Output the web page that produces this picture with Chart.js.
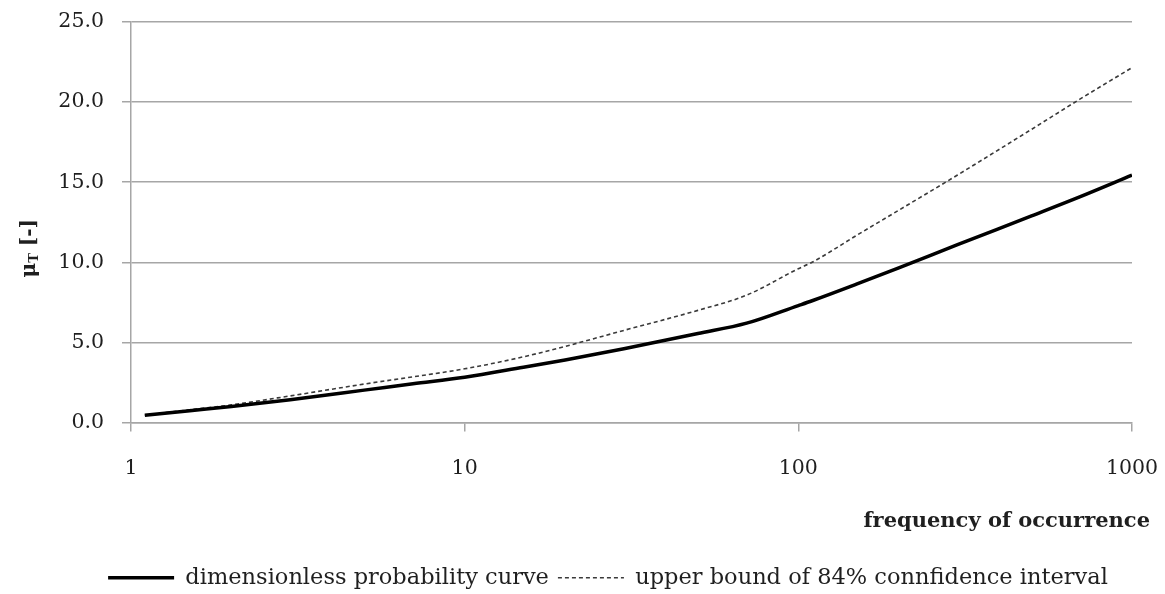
<!DOCTYPE html>
<html>
<head>
<meta charset="utf-8">
<script src="https://cdn.jsdelivr.net/npm/chart.js@4.4.1/dist/chart.umd.min.js"></script>
<style>
  html, body { margin:0; padding:0; background:#fff; }
  #wrap { width:1165px; height:594px; }
</style>
</head>
<body>
<div id="wrap"><canvas id="chartCurva"></canvas></div>
<script>
// ── Datos ──
const frecuencia = [1.1, 1.5, 2, 3, 5, 7, 10, 15, 20, 30, 50, 70, 100, 110, 150, 200, 300, 500, 700, 1000];
const curvaAdim  = [0.45, 0.74, 1.0, 1.42, 2.02, 2.42, 2.83, 3.45, 3.9, 4.6, 5.55, 6.2, 7.3, 7.6, 8.65, 9.65, 11.1, 12.9, 14.1, 15.44];
const limiteSup  = [0.45, 0.8, 1.1, 1.66, 2.4, 2.85, 3.35, 4.1, 4.75, 5.75, 7.0, 7.95, 9.6, 10.0, 11.7, 13.25, 15.45, 18.3, 20.2, 22.15];
const ticksX     = [1, 10, 100, 1000];
const etiquetas  = ['dimensionless probability curve', 'upper bound of 84% connfidence interval'];

const FUENTE = '"DejaVu Serif", "Liberation Serif", serif';
const TEXTO  = '#1f1f1f';
const GRIS   = '#a6a6a6';

const puntos = (ys) => frecuencia.map((x, i) => ({ x, y: ys[i] }));

// ── Títulos de ejes (μT con subíndice) y desplazamiento de la leyenda ──
const titulosEjes = {
  id: 'titulosEjes',
  afterLayout(chart) {
    chart.legend.left += 42;
    chart.legend.right += 42;
  },
  afterDraw(chart) {
    const { ctx, chartArea } = chart;
    ctx.save();
    ctx.fillStyle = TEXTO;
    ctx.textBaseline = 'middle';

    ctx.font = `bold 21px ${FUENTE}`;
    ctx.textAlign = 'right';
    ctx.fillText('frequency of occurrence', chartArea.right + 18, 522);

    // eje Y, rotado
    const cy = (chartArea.top + chartArea.bottom) / 2 + 26;
    ctx.translate(30, cy);
    ctx.rotate(-Math.PI / 2);
    ctx.textAlign = 'left';
    const fMu = `bold 20px ${FUENTE}`, fSub = `bold 13px ${FUENTE}`;
    ctx.font = fMu;  const wMu = ctx.measureText('μ').width;
    ctx.font = fSub; const wT  = ctx.measureText('T').width;
    ctx.font = fMu;  const wR  = ctx.measureText(' [-]').width;
    let x0 = -(wMu + wT + wR) / 2;
    ctx.font = fMu;  ctx.fillText('μ', x0, 0);
    ctx.font = fSub; ctx.fillText('T', x0 + wMu, 5);
    ctx.font = fMu;  ctx.fillText(' [-]', x0 + wMu + wT, 0);
    ctx.restore();
  }
};

const ctx = document.getElementById('chartCurva');
new Chart(ctx, {
  type: 'line',
  data: {
    datasets: [
      { label: etiquetas[0], data: puntos(curvaAdim),
        borderColor: '#000', borderWidth: 3.5, pointRadius: 0,
        cubicInterpolationMode: 'monotone', fill: false },
      { label: etiquetas[1], data: puntos(limiteSup),
        borderColor: '#3a3a3a', borderWidth: 1.6, borderDash: [4, 3], pointRadius: 0,
        cubicInterpolationMode: 'monotone', fill: false },
    ]
  },
  options: {
    responsive: true, maintainAspectRatio: false, animation: false,
    layout: { padding: { top: 22, right: 33, left: 0, bottom: -5 } },
    plugins: {
      tooltip: { enabled: false },
      legend: {
        position: 'bottom',
        labels: {
          color: TEXTO, font: { family: FUENTE, size: 22.5 },
          usePointStyle: true, pointStyle: 'line', pointStyleWidth: 66,
          padding: 9,
          // la muestra de línea toma el trazo del dataset (con guiones)
          generateLabels: (chart) => Chart.defaults.plugins.legend.labels.generateLabels(chart).map((item, i) => {
            const ds = chart.data.datasets[i];
            return { ...item, lineDash: ds.borderDash || [], lineWidth: ds.borderWidth, strokeStyle: ds.borderColor };
          })
        }
      }
    },
    scales: {
      x: {
        type: 'logarithmic', min: 1, max: 1000,
        afterBuildTicks: (axis) => { axis.ticks = ticksX.map(v => ({ value: v })); },
        afterFit: (scale) => { scale.height = 135; scale.paddingLeft = 0; scale.paddingRight = 0; },
        grid: { drawOnChartArea: false, color: GRIS, tickLength: 9, lineWidth: 1.5 },
        border: { color: GRIS, width: 1.5 },
        ticks: { color: TEXTO, font: { family: FUENTE, size: 20.5 }, padding: 25,
                 maxRotation: 0, autoSkip: false, callback: (v) => String(v) }
      },
      y: {
        min: 0, max: 25,
        afterFit: (scale) => { scale.width = 131; scale.paddingTop = 0; scale.paddingBottom = 0; },
        grid: { color: GRIS, tickLength: 9, lineWidth: 1.5 },
        border: { color: GRIS, width: 1.5 },
        ticks: { stepSize: 5, color: TEXTO, font: { family: FUENTE, size: 20.5 }, padding: 18,
                 callback: (v) => v.toFixed(1) }
      }
    }
  },
  plugins: [titulosEjes]
});
</script>
</body>
</html>
